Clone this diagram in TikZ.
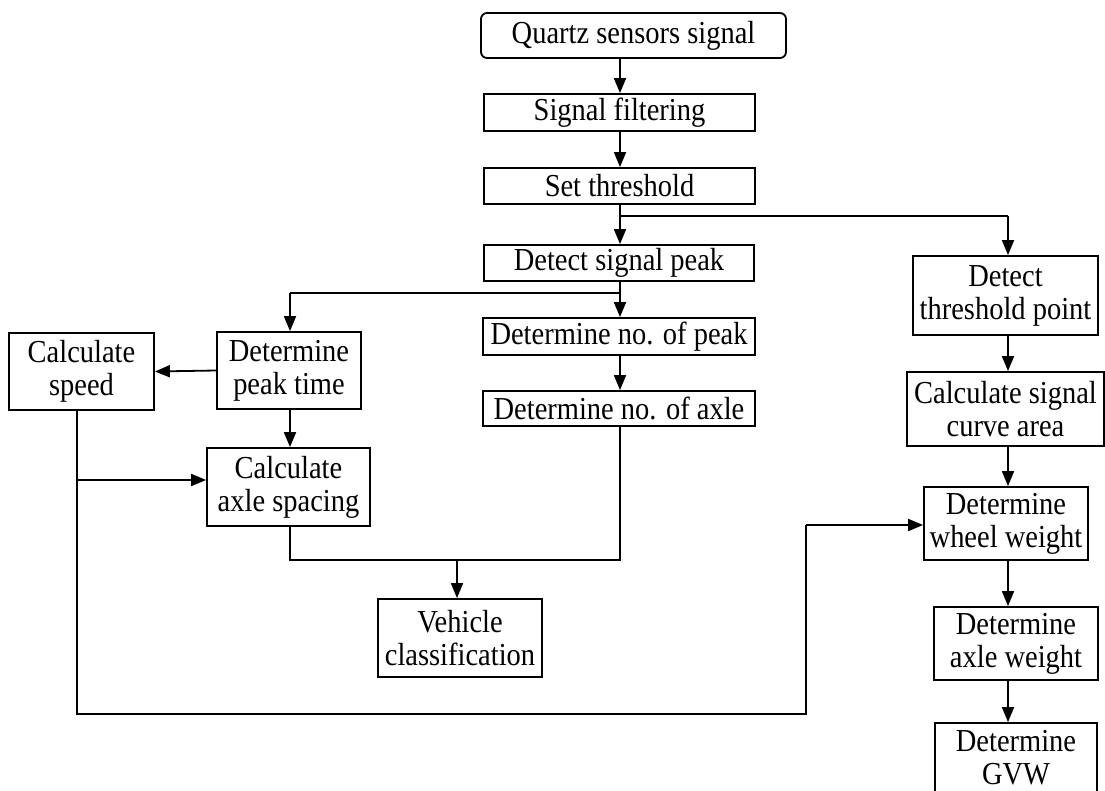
\documentclass[tikz,border=0pt]{standalone}
\usepackage{fontspec}
\setmainfont{Liberation Serif}[FakeStretch=0.89]
\usetikzlibrary{arrows.meta}
\tikzset{
  box/.style={draw, line width=1.8pt, rectangle, inner sep=0pt, align=center,
    font=\fontsize{32}{33}\selectfont},
  arr/.style={line width=1.8pt, -{Triangle[length=15pt,width=12pt]}},
  ln/.style={line width=1.8pt},
}
\begin{document}
\begin{tikzpicture}[x=1pt,y=-1pt]
\useasboundingbox (0,0) rectangle (1105,791);
\clip (0,0) rectangle (1105,791);
% nodes
\node[box, rounded corners=6pt, minimum width=305pt, minimum height=45pt] (q) at (633.5,35.5) {Quartz sensors signal};
\node[box, minimum width=271pt, minimum height=37pt] (sf) at (619.5,112.5) {Signal filtering};
\node[box, minimum width=271pt, minimum height=36pt] (st) at (619.5,186) {Set threshold};
\node[box, minimum width=270pt, minimum height=36pt] (dsp) at (619,263) {Detect signal peak};
\node[box, minimum width=272pt, minimum height=37pt] (dnp) at (619,336.5) {Determine no. of peak};
\node[box, minimum width=272pt, minimum height=35pt] (dna) at (619,408.5) {Determine no. of axle};
\node[box, minimum width=145pt, minimum height=77pt] (cs) at (81.5,371.5) {Calculate\\speed};
\node[box, minimum width=144pt, minimum height=77pt] (dpt) at (289,370.5) {Determine\\peak time};
\node[box, minimum width=163pt, minimum height=78pt] (cas) at (288.5,487) {Calculate\\axle spacing};
\node[box, minimum width=164pt, minimum height=78pt] (vc) at (460,638) {Vehicle\\classification};
\node[box, minimum width=185pt, minimum height=79pt] (dtp) at (1005.5,295.5) {Detect\\threshold point};
\node[box, minimum width=197pt, minimum height=74pt] (csc) at (1005.5,409) {Calculate signal\\curve area};
\node[box, minimum width=164pt, minimum height=73pt] (dww) at (1006,523.5) {Determine\\wheel weight};
\node[box, minimum width=164pt, minimum height=73pt] (daw) at (1016,643.5) {Determine\\axle weight};
\node[box, minimum width=162pt, minimum height=70pt] (gvw) at (1016,758) {Determine\\GVW};
% helper coordinates
\coordinate (mx) at (620,0);
\coordinate (rx) at (1008,0);
\coordinate (j1) at (620,216);
\coordinate (j1r) at (1008,216);
\coordinate (j2) at (620,293);
\coordinate (j2l) at (290,293);
\coordinate (sx) at (77,0);
\coordinate (j3) at (77,480);
\coordinate (b1) at (77,714);
\coordinate (b2) at (806,714);
\coordinate (b3) at (806,525);
\coordinate (c1) at (290,560);
\coordinate (c2) at (620,560);
\coordinate (c3) at (457,560);
% connectors, main column
\draw[arr] (q.south -| mx) -- (sf.north -| mx);
\draw[arr] (sf.south -| mx) -- (st.north -| mx);
\draw[arr] (st.south -| mx) -- (dsp.north -| mx);
\draw[ln] (j1) -- (j1r);
\draw[arr] (j1r) -- (dtp.north -| rx);
\draw[arr] (dsp.south -| mx) -- (dnp.north -| mx);
\draw[ln] (j2) -- (j2l);
\draw[arr] (j2l) -- (dpt.north -| j2l);
\draw[arr] (dnp.south -| mx) -- (dna.north -| mx);
% left part
\draw[arr] (dpt.west) -- (cs.east);
\draw[arr] (dpt.south -| j2l) -- (cas.north -| j2l);
\draw[ln] (cs.south -| sx) -- (b1) -- (b2) -- (b3);
\draw[arr] (b3) -- (dww.west |- b3);
\draw[arr] (j3) -- (cas.west |- j3);
\draw[ln] (cas.south -| c1) -- (c1) -- (c2) -- (dna.south -| c2);
\draw[arr] (c3) -- (vc.north -| c3);
% right column
\draw[arr] (dtp.south -| rx) -- (csc.north -| rx);
\draw[arr] (csc.south -| rx) -- (dww.north -| rx);
\draw[arr] (dww.south -| rx) -- (daw.north -| rx);
\draw[arr] (daw.south -| rx) -- (gvw.north -| rx);
\end{tikzpicture}
\end{document}
